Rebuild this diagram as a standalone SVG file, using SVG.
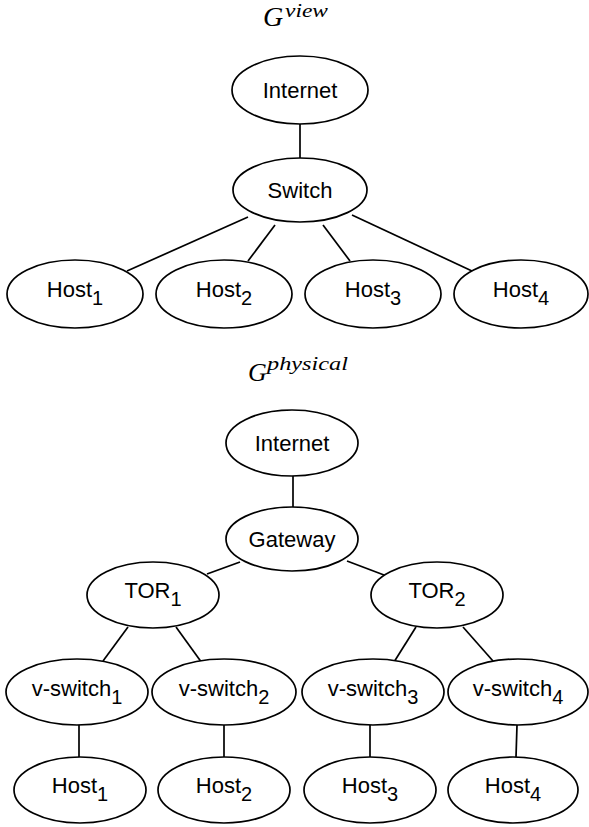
<svg xmlns="http://www.w3.org/2000/svg" width="589" height="827" viewBox="0 0 589 827">
<style>
.n{fill:#fff;stroke:#000;stroke-width:1.7}
.e line{stroke:#000;stroke-width:1.7}
.t{font-family:"Liberation Sans",Arial,sans-serif;font-size:22px;text-anchor:middle;fill:#000}
.s{font-size:20px}
.m{font-family:"Liberation Serif","Times New Roman",serif;font-style:italic;fill:#000}
</style>
<rect width="589" height="827" fill="#fff"/>
<g id="title-view"><text class="m" x="263" y="26" font-size="28">G</text><text class="m" x="285" y="17" font-size="18" textLength="43" lengthAdjust="spacingAndGlyphs">view</text></g>
<g id="title-physical"><text class="m" x="248" y="381" font-size="26">G</text><text class="m" x="267" y="370" font-size="18" textLength="81" lengthAdjust="spacingAndGlyphs">physical</text></g>
<g class="e" id="connectors">
<line x1="300" y1="124" x2="300" y2="158"/>
<line x1="248" y1="217" x2="127" y2="271"/>
<line x1="275" y1="225" x2="248" y2="261"/>
<line x1="323" y1="225" x2="350" y2="261"/>
<line x1="352" y1="215" x2="472" y2="271"/>
<line x1="293" y1="476" x2="293" y2="507"/>
<line x1="240" y1="562" x2="207" y2="574"/>
<line x1="347" y1="561" x2="384" y2="575"/>
<line x1="128" y1="627" x2="103" y2="661"/>
<line x1="176" y1="627" x2="202" y2="663"/>
<line x1="416" y1="627" x2="394" y2="662"/>
<line x1="463" y1="627" x2="493" y2="661"/>
<line x1="79" y1="725" x2="79" y2="757"/>
<line x1="224" y1="725" x2="224" y2="757"/>
<line x1="370" y1="725" x2="370" y2="757"/>
<line x1="517" y1="725" x2="516" y2="757"/>
</g>
<g id="v-internet"><ellipse class="n" cx="300" cy="90" rx="68" ry="34"/><text class="t" x="300" y="98">Internet</text></g>
<g id="v-switch"><ellipse class="n" cx="300" cy="190" rx="67" ry="32"/><text class="t" x="300" y="198">Switch</text></g>
<g id="v-host1"><ellipse class="n" cx="75" cy="294" rx="68" ry="34"/><text class="t" x="75" y="297">Host<tspan class="s" dy="8">1</tspan></text></g>
<g id="v-host2"><ellipse class="n" cx="224" cy="294" rx="68" ry="34"/><text class="t" x="224" y="297">Host<tspan class="s" dy="8">2</tspan></text></g>
<g id="v-host3"><ellipse class="n" cx="373" cy="294" rx="68" ry="34"/><text class="t" x="373" y="297">Host<tspan class="s" dy="8">3</tspan></text></g>
<g id="v-host4"><ellipse class="n" cx="521" cy="294" rx="67" ry="34"/><text class="t" x="521" y="297">Host<tspan class="s" dy="8">4</tspan></text></g>
<g id="p-internet"><ellipse class="n" cx="292" cy="443" rx="66" ry="33"/><text class="t" x="292" y="451">Internet</text></g>
<g id="p-gateway"><ellipse class="n" cx="292" cy="539" rx="66" ry="32"/><text class="t" x="292" y="547">Gateway</text></g>
<g id="p-tor1"><ellipse class="n" cx="153" cy="595" rx="66" ry="33"/><text class="t" x="153" y="598">TOR<tspan class="s" dy="8">1</tspan></text></g>
<g id="p-tor2"><ellipse class="n" cx="437" cy="595" rx="66" ry="33"/><text class="t" x="437" y="598">TOR<tspan class="s" dy="8">2</tspan></text></g>
<g id="p-vs1"><ellipse class="n" cx="77" cy="692" rx="71" ry="33"/><text class="t" x="77" y="696">v-switch<tspan class="s" dy="8">1</tspan></text></g>
<g id="p-vs2"><ellipse class="n" cx="224" cy="692" rx="72" ry="33"/><text class="t" x="224" y="696">v-switch<tspan class="s" dy="8">2</tspan></text></g>
<g id="p-vs3"><ellipse class="n" cx="373" cy="692" rx="71" ry="33"/><text class="t" x="373" y="696">v-switch<tspan class="s" dy="8">3</tspan></text></g>
<g id="p-vs4"><ellipse class="n" cx="518" cy="692" rx="70" ry="33"/><text class="t" x="518" y="696">v-switch<tspan class="s" dy="8">4</tspan></text></g>
<g id="p-host1"><ellipse class="n" cx="80" cy="790" rx="66" ry="33"/><text class="t" x="80" y="793">Host<tspan class="s" dy="8">1</tspan></text></g>
<g id="p-host2"><ellipse class="n" cx="224" cy="790" rx="66" ry="33"/><text class="t" x="224" y="793">Host<tspan class="s" dy="8">2</tspan></text></g>
<g id="p-host3"><ellipse class="n" cx="370" cy="790" rx="66" ry="33"/><text class="t" x="370" y="793">Host<tspan class="s" dy="8">3</tspan></text></g>
<g id="p-host4"><ellipse class="n" cx="513" cy="790" rx="65" ry="33"/><text class="t" x="513" y="793">Host<tspan class="s" dy="8">4</tspan></text></g>
</svg>
